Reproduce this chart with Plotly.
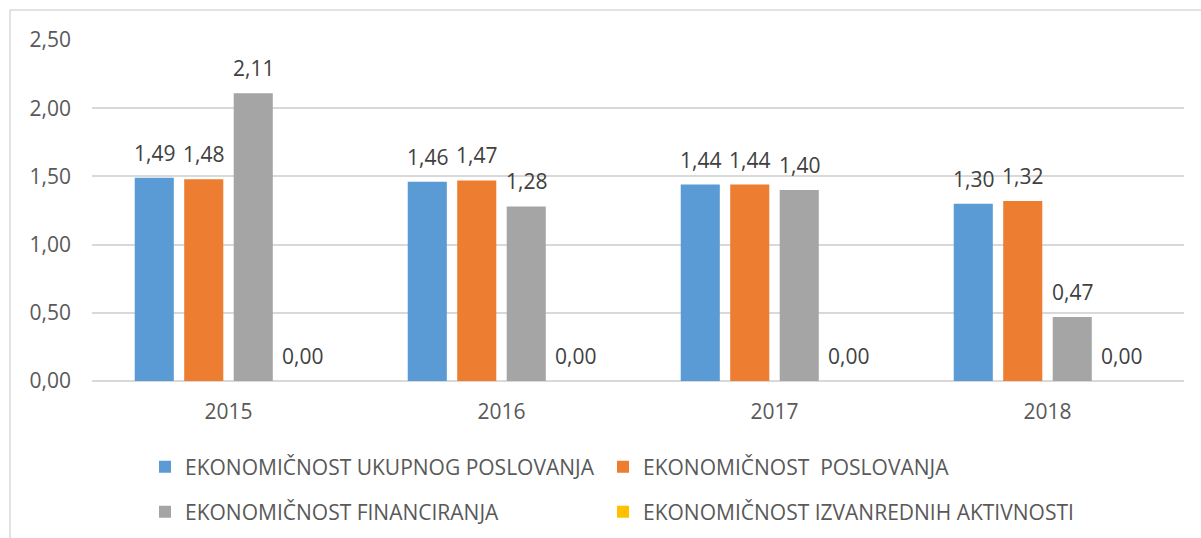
import plotly.graph_objects as go

categories = ["2015", "2016", "2017", "2018"]
series_names = [
    "EKONOMIČNOST UKUPNOG POSLOVANJA",
    "EKONOMIČNOST  POSLOVANJA",
    "EKONOMIČNOST FINANCIRANJA",
    "EKONOMIČNOST IZVANREDNIH AKTIVNOSTI",
]
ukupno = [1.49, 1.46, 1.44, 1.30]
poslovanje = [1.48, 1.47, 1.44, 1.32]
financiranje = [2.11, 1.28, 1.40, 0.47]
izvanredne = [0.00, 0.00, 0.00, 0.00]
y_ticks = [0, 0.5, 1.0, 1.5, 2.0, 2.5]

series = [ukupno, poslovanje, financiranje, izvanredne]
colors = ["#5B9BD5", "#ED7D31", "#A5A5A5", "#FFC000"]

W, H = 1201, 538
L, R, T, B = 92, 17, 40, 157
pw, ph = W - L - R, H - T - B
bargap, bargroupgap = 0.275, 0.21
slot = pw / len(categories) * (1 - bargap) / len(series)

FONT = "Open Sans"
FS = 21

def px_to_py(ypx):
    return (H - B - ypx) / ph

def px_to_px(xpx):
    return (xpx - L) / pw

legend_ids = ["legend", "legend2", "legend3", "legend4"]
legend_xpx = [145, 603, 145, 603]
legend_ypx = [467, 467, 512, 512]

fig = go.Figure()
for i, (name, vals, col) in enumerate(zip(series_names, series, colors)):
    fig.add_trace(go.Bar(
        x=categories, y=vals, name=name, marker_color=col,
        marker_line_width=0, legend=legend_ids[i],
    ))
    for j, v in enumerate(vals):
        fig.add_annotation(
            x=j, y=v, text=f"{v:.2f}".replace(".", ","),
            showarrow=False, xshift=(i - (len(series) - 1) / 2) * slot,
            yshift=9, yanchor="bottom",
            font=dict(family=FONT, size=FS, color="#404040"),
        )

fig.add_shape(type="rect", xref="paper", yref="paper",
              x0=px_to_px(10), x1=px_to_px(1230), y0=px_to_py(560), y1=px_to_py(10),
              line=dict(color="#D9D9D9", width=1.5), fillcolor="rgba(0,0,0,0)", layer="below")

legends = {}
for lid, xp, yp in zip(legend_ids, legend_xpx, legend_ypx):
    legends[lid] = dict(
        orientation="h", xanchor="left", yanchor="middle",
        x=px_to_px(xp), y=px_to_py(yp),
        font=dict(family=FONT, size=FS, color="#595959"),
        bgcolor="rgba(0,0,0,0)", itemclick=False,
    )

fig.update_layout(
    width=W, height=H,
    margin=dict(l=L, r=R, t=T, b=B, pad=0, autoexpand=False),
    paper_bgcolor="white", plot_bgcolor="white",
    barmode="group", bargap=bargap, bargroupgap=bargroupgap,
    separators=",.",
    showlegend=True,
    font=dict(family=FONT, size=FS, color="#595959"),
    xaxis=dict(
        type="category", showgrid=False, showline=False, zeroline=False,
        ticks="", ticklabelstandoff=16, range=[-0.5, len(categories) - 0.5],
        tickfont=dict(family=FONT, size=FS, color="#595959"),
    ),
    yaxis=dict(
        range=[0, 2.5], tickvals=y_ticks, tickformat=".2f",
        showgrid=True, gridcolor="#D9D9D9", gridwidth=1.5,
        zeroline=True, zerolinecolor="#D9D9D9", zerolinewidth=1.5,
        showline=False, ticks="", ticklabelstandoff=20,
        tickfont=dict(family=FONT, size=FS, color="#595959"),
    ),
    **legends,
)

fig.write_html("out.html")
